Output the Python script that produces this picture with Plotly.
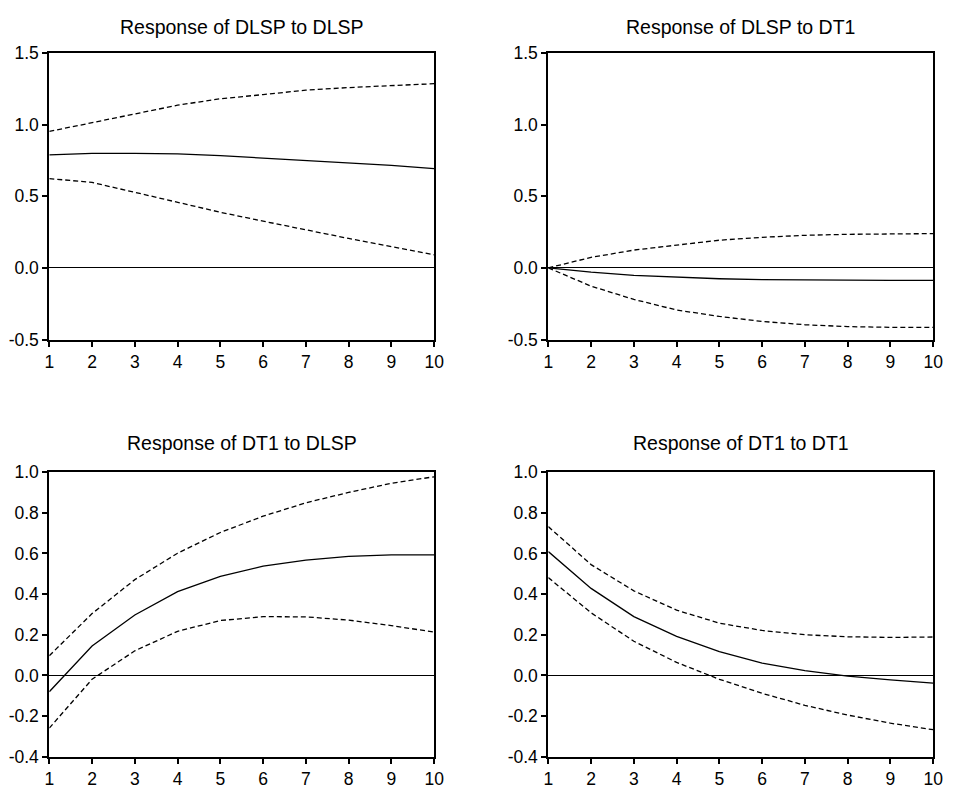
import plotly.graph_objects as go

periods = [1, 2, 3, 4, 5, 6, 7, 8, 9, 10]

titles = ["Response of DLSP to DLSP", "Response of DLSP to DT1",
          "Response of DT1 to DLSP", "Response of DT1 to DT1"]

# Response of DLSP to DLSP
dlsp_dlsp = [0.788, 0.799, 0.799, 0.795, 0.783, 0.767, 0.749, 0.733, 0.715, 0.692]
dlsp_dlsp_up = [0.952, 1.011, 1.074, 1.135, 1.180, 1.209, 1.240, 1.258, 1.273, 1.285]
dlsp_dlsp_lo = [0.623, 0.596, 0.527, 0.457, 0.388, 0.326, 0.263, 0.205, 0.148, 0.091]

# Response of DLSP to DT1
dlsp_dt1 = [0.0, -0.030, -0.053, -0.067, -0.076, -0.082, -0.085, -0.087, -0.088, -0.088]
dlsp_dt1_up = [0.0, 0.073, 0.124, 0.161, 0.193, 0.213, 0.227, 0.234, 0.236, 0.239]
dlsp_dt1_lo = [0.0, -0.128, -0.220, -0.294, -0.339, -0.374, -0.397, -0.410, -0.415, -0.415]

# Response of DT1 to DLSP
dt1_dlsp = [-0.080, 0.145, 0.297, 0.412, 0.487, 0.537, 0.567, 0.585, 0.593, 0.593]
dt1_dlsp_up = [0.097, 0.304, 0.471, 0.601, 0.703, 0.783, 0.849, 0.900, 0.945, 0.977]
dt1_dlsp_lo = [-0.259, -0.019, 0.121, 0.217, 0.270, 0.289, 0.288, 0.272, 0.245, 0.213]

# Response of DT1 to DT1
dt1_dt1 = [0.609, 0.428, 0.289, 0.192, 0.117, 0.061, 0.024, -0.003, -0.022, -0.038]
dt1_dt1_up = [0.732, 0.545, 0.416, 0.321, 0.257, 0.221, 0.200, 0.190, 0.187, 0.189]
dt1_dt1_lo = [0.481, 0.308, 0.168, 0.064, -0.019, -0.088, -0.147, -0.195, -0.235, -0.267]

panels = [
    (dlsp_dlsp, dlsp_dlsp_up, dlsp_dlsp_lo),
    (dlsp_dt1, dlsp_dt1_up, dlsp_dt1_lo),
    (dt1_dlsp, dt1_dlsp_up, dt1_dlsp_lo),
    (dt1_dt1, dt1_dt1_up, dt1_dt1_lo),
]

top_ticks = [-0.5, 0.0, 0.5, 1.0, 1.5]
bot_ticks = [-0.4, -0.2, 0.0, 0.2, 0.4, 0.6, 0.8, 1.0]

W, H = 954, 796
xdoms = [[45 / W, 436 / W], [552 / W, 943 / W]]
ydoms = [[(H - 338) / H, (H - 44) / H], [(H - 766) / H, (H - 474) / H]]

fig = go.Figure()
font = dict(family="Liberation Sans, Arial, sans-serif", color="black")

for i, (mid, up, lo) in enumerate(panels):
    n = i + 1
    xa = "x" if n == 1 else f"x{n}"
    ya = "y" if n == 1 else f"y{n}"
    for ser, dash in [(up, "5px,3px"), (lo, "5px,3px"), (mid, "solid")]:
        fig.add_trace(go.Scatter(x=periods, y=ser, mode="lines", xaxis=xa, yaxis=ya,
                                 line=dict(color="black", width=1.3, dash=dash),
                                 showlegend=False, hoverinfo="skip"))
    row, col = divmod(i, 2)
    ticks = top_ticks if row == 0 else bot_ticks
    rng = [ticks[0], ticks[-1]]
    axkey = "xaxis" if n == 1 else f"xaxis{n}"
    aykey = "yaxis" if n == 1 else f"yaxis{n}"
    fig.update_layout(**{
        axkey: dict(domain=xdoms[col], anchor=ya, range=[1, 10], tickvals=periods,
                    showgrid=False, zeroline=False, showline=True, linecolor="black",
                    linewidth=2, mirror=True, ticks="outside", ticklen=5, tickwidth=1.5,
                    tickcolor="black", tickfont=dict(size=17.5, **font)),
        aykey: dict(domain=ydoms[row], anchor=xa, range=rng, tickvals=ticks,
                    ticktext=[f"{t:.1f}" for t in ticks],
                    showgrid=False, zeroline=True, zerolinecolor="black", zerolinewidth=1,
                    showline=True, linecolor="black", linewidth=2, mirror=True,
                    ticks="outside", ticklen=5, tickwidth=1.5, tickcolor="black",
                    tickfont=dict(size=17.5, **font)),
    })
    fig.add_annotation(text=titles[i], xref="paper", yref="paper",
                       x=sum(xdoms[col]) / 2, y=(H - (17 if row == 0 else 444)) / H,
                       showarrow=False, xanchor="center", yanchor="middle",
                       font=dict(size=19.5, **font))

fig.update_layout(width=W, height=H, margin=dict(l=0, r=0, t=0, b=0),
                  plot_bgcolor="white", paper_bgcolor="white")

fig.write_html("out.html")
